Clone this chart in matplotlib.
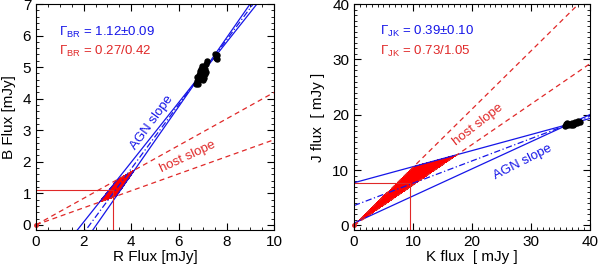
import numpy as np
import matplotlib.pyplot as plt
from matplotlib.ticker import MultipleLocator
from matplotlib.patches import Polygon

plt.rcParams['font.family'] = ['Liberation Sans', 'DejaVu Sans']
plt.rcParams['mathtext.fontset'] = 'custom'
plt.rcParams['mathtext.rm'] = 'Liberation Sans'
plt.rcParams['mathtext.it'] = 'Liberation Sans:italic'

# B vs R data
br_r = [6.70, 6.75, 6.80, 6.78, 6.85, 6.90, 6.88, 6.95, 7.00, 6.92, 7.05, 7.02, 6.98, 7.10,
        7.08, 7.15, 6.95, 7.05, 6.85, 7.18, 7.12, 7.55, 7.60, 7.50, 7.58, 6.82, 7.00]
br_b = [4.48, 4.55, 4.62, 4.70, 4.75, 4.80, 4.88, 4.85, 4.92, 4.95, 4.90, 5.00, 5.05, 4.95,
        4.78, 4.85, 4.68, 4.65, 4.58, 5.20, 5.10, 5.30, 5.38, 5.40, 5.25, 4.45, 4.60]
br_pivot = (6.96, 4.80)
br_agn_slopes = [0.95, 1.02, 1.085]      # lower bound, fit, upper bound (as drawn)
br_host_slopes = [0.27, 0.42]
br_host_pt = (3.25, 1.1)

# J vs K data
jk_k = [35.8, 36.0, 36.3, 36.5, 36.8, 37.0, 37.3, 37.5, 37.8, 38.0, 38.3, 36.2, 37.1]
jk_j = [18.0, 18.3, 18.1, 18.4, 18.2, 18.5, 18.3, 18.6, 18.5, 18.8, 18.7, 18.5, 18.1]
jk_pivot = (36.5, 18.3)
jk_agn_slopes = [0.29, 0.403, 0.49]
jk_host_slopes = [0.73, 1.05]
jk_host_pt = (9.5, 7.6)

blue = '#1515e8'
red = '#ff0000'
dred = '#e02828'


def agn(x, pivot, m):
    return pivot[1] + m * (np.asarray(x) - pivot[0])


def cross(pivot, m, h):
    # intersection of agn line with host line y = h*x
    x = (pivot[1] - m * pivot[0]) / (h - m)
    return x, h * x


def panel(ax, xs, ys, pivot, slopes, hosts, hpt, xmax, ymin, ymax):
    xx = np.linspace(0, xmax, 200)
    # host region
    corners = [cross(pivot, slopes[0], hosts[0]), cross(pivot, slopes[0], hosts[1]),
               cross(pivot, slopes[2], hosts[1]), cross(pivot, slopes[2], hosts[0])]
    ax.add_patch(Polygon(corners, closed=True, facecolor=red, edgecolor='none',
                         antialiased=False, zorder=1))
    ax.plot(xx, agn(xx, pivot, slopes[0]), color=blue, lw=0.9)
    ax.plot(xx, agn(xx, pivot, slopes[2]), color=blue, lw=0.9)
    ax.plot(xx, agn(xx, pivot, slopes[1]), color=blue, lw=0.9, ls=(0, (5, 2, 1, 2)))
    for h in hosts:
        ax.plot(xx, h * xx, color=dred, lw=0.9, ls=(0, (4, 3)))
    ax.plot([0, hpt[0], hpt[0]], [hpt[1], hpt[1], ymin], color=dred, lw=0.8)
    ax.plot(xs, ys, 'o', color='black', ms=3.6)
    ax.plot([0], [0], 'o', color=dred, ms=2.5, clip_on=False)
    ax.set_xlim(0, xmax)
    ax.set_ylim(ymin, ymax)
    ax.tick_params(which='both', direction='in', top=True, right=True, labelsize=11)
    ax.tick_params(which='major', length=5, width=0.8)
    ax.tick_params(which='minor', length=2.5, width=0.6)
    for s in ax.spines.values():
        s.set_linewidth(0.8)


fig = plt.figure(figsize=(6, 2.67), dpi=100)
ax1 = fig.add_axes([0.06, 0.139, 0.397, 0.846])
ax2 = fig.add_axes([0.59, 0.139, 0.393, 0.846])

panel(ax1, br_r, br_b, br_pivot, br_agn_slopes, br_host_slopes, br_host_pt, 10, -0.16, 7)
ax1.xaxis.set_major_locator(MultipleLocator(2))
ax1.xaxis.set_minor_locator(MultipleLocator(0.5))
ax1.yaxis.set_major_locator(MultipleLocator(1))
ax1.yaxis.set_minor_locator(MultipleLocator(0.2))
ax1.set_xlabel('R Flux [mJy]', fontsize=11, labelpad=1)
ax1.set_ylabel('B Flux [mJy]', fontsize=11, labelpad=5)
ax1.text(0.097, 0.876, r'$\Gamma_{\rm BR}$ = 1.12±0.09', transform=ax1.transAxes,
         color=blue, fontsize=9.5, va='center')
ax1.text(0.097, 0.79, r'$\Gamma_{\rm BR}$ = 0.27/0.42', transform=ax1.transAxes,
         color=dred, fontsize=9.5, va='center')
ax1.text(4.85, 3.25, 'AGN slope', color=blue, fontsize=9.5, rotation=54,
         ha='center', va='center')
ax1.text(6.35, 2.15, 'host slope', color=dred, fontsize=9.5, rotation=25,
         ha='center', va='center')

panel(ax2, jk_k, jk_j, jk_pivot, jk_agn_slopes, jk_host_slopes, jk_host_pt, 40, -0.8, 40)
ax2.xaxis.set_major_locator(MultipleLocator(10))
ax2.xaxis.set_minor_locator(MultipleLocator(1))
ax2.yaxis.set_major_locator(MultipleLocator(10))
ax2.yaxis.set_minor_locator(MultipleLocator(1))
ax2.set_xlabel('K flux  [ mJy ]', fontsize=11, labelpad=1)
ax2.set_ylabel('J flux  [ mJy ]', fontsize=11, labelpad=5)
ax2.text(0.11, 0.877, r'$\Gamma_{\rm JK}$ = 0.39±0.10', transform=ax2.transAxes,
         color=blue, fontsize=9.5, va='center')
ax2.text(0.11, 0.79, r'$\Gamma_{\rm JK}$ = 0.73/1.05', transform=ax2.transAxes,
         color=dred, fontsize=9.5, va='center')
ax2.text(21.1, 18.1, 'host slope', color=dred, fontsize=9.5, rotation=38,
         ha='center', va='center')
ax2.text(28.7, 11.4, 'AGN slope', color=blue, fontsize=9.5, rotation=27,
         ha='center', va='center')

fig.savefig('out.png', dpi=100)
